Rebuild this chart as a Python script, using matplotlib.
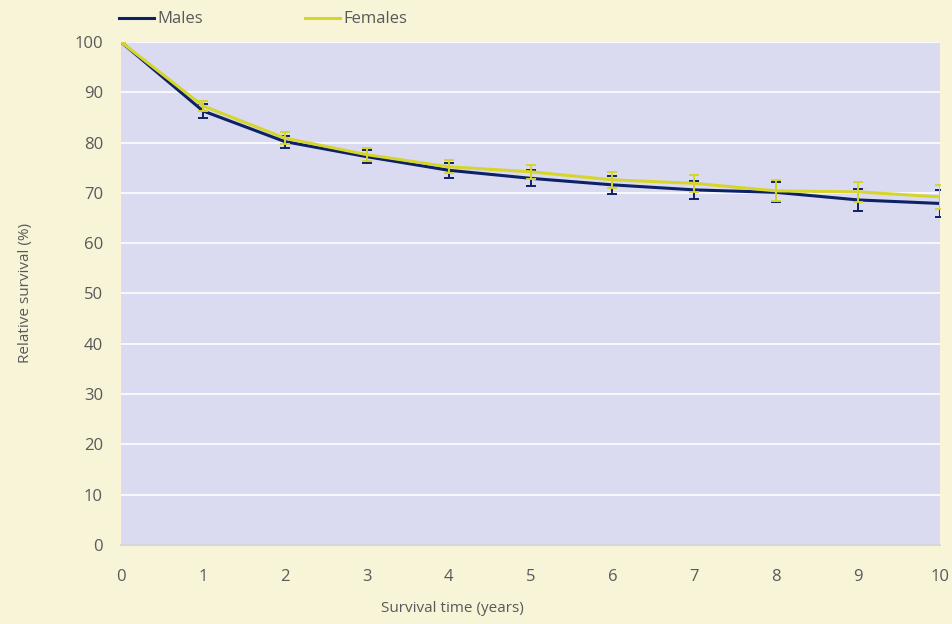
import numpy as np
import matplotlib.pyplot as plt

years = np.arange(0, 11)
males = [100, 86.3, 80.2, 77.2, 74.5, 72.9, 71.6, 70.6, 70.1, 68.6, 67.9]
males_err = [0, 1.35, 1.2, 1.35, 1.45, 1.6, 1.8, 1.85, 2.0, 2.25, 2.6]
females = [100, 87.3, 80.9, 77.6, 75.2, 74.2, 72.6, 71.9, 70.4, 70.2, 69.2]
females_err = [0, 1.05, 1.15, 1.3, 1.3, 1.35, 1.6, 1.75, 2.1, 2.05, 2.4]

bg = '#F7F4D8'
plot_bg = '#DADBF0'
navy = '#0D2166'
yellow = '#D5D52C'
grey_text = '#595959'

plt.rcParams['font.family'] = ['Open Sans', 'DejaVu Sans']

fig = plt.figure(figsize=(9.53, 6.24), dpi=100, facecolor=bg)
ax = fig.add_axes([0.127, 0.1266, 0.8594, 0.8061])
ax.set_facecolor(plot_bg)

ax.errorbar(years, males, yerr=males_err, color=navy, lw=2.2, ecolor=navy,
            elinewidth=1.4, capsize=3.5, capthick=1.4, label='Males', zorder=3)
ax.errorbar(years, females, yerr=females_err, color=yellow, lw=2.2, ecolor=yellow,
            elinewidth=1.4, capsize=3.5, capthick=1.4, label='Females', zorder=4)

ax.set_xlim(0, 10)
ax.set_ylim(0, 100)
ax.set_xticks(range(0, 11))
ax.set_yticks(range(0, 101, 10))
ax.grid(axis='y', color='white', lw=1.2)
ax.set_axisbelow(True)
ax.tick_params(length=0, labelsize=12, colors=grey_text)
ax.tick_params(axis='x', pad=17)
ax.tick_params(axis='y', pad=13)
for s in ['top', 'right', 'left']:
    ax.spines[s].set_visible(False)
ax.spines['bottom'].set_color('#D0D0D8')
ax.spines['bottom'].set_linewidth(1.2)

ax.set_xlabel('Survival time (years)', fontsize=11, color=grey_text, labelpad=12)
ax.xaxis.label.set_x(0.404)
ax.set_ylabel('Relative survival (%)', fontsize=11, color=grey_text, labelpad=30)

labels = ['Males', 'Females']
handles = [plt.Line2D([], [], color=navy, lw=2.2), plt.Line2D([], [], color=yellow, lw=2.2)]
leg = ax.legend(handles, labels, loc='center left', bbox_to_anchor=(-0.002, 1.045), ncol=2,
                frameon=False, fontsize=12, handlelength=2.1, handletextpad=0.2,
                columnspacing=6.1, borderaxespad=0, borderpad=0)
for t in leg.get_texts():
    t.set_color(grey_text)

fig.savefig('out.png', dpi=100, facecolor=bg)
